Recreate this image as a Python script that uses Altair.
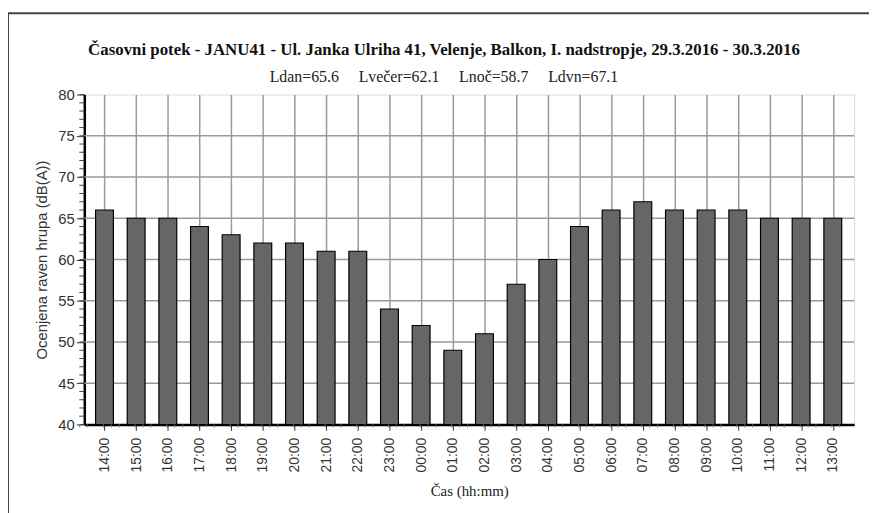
import altair as alt
import pandas as pd

hours = ["14:00", "15:00", "16:00", "17:00", "18:00", "19:00", "20:00", "21:00",
         "22:00", "23:00", "00:00", "01:00", "02:00", "03:00", "04:00", "05:00",
         "06:00", "07:00", "08:00", "09:00", "10:00", "11:00", "12:00", "13:00"]
levels = [66, 65, 65, 64, 63, 62, 62, 61, 61, 54, 52, 49, 51, 57, 60, 64,
          66, 67, 66, 66, 66, 65, 65, 65]
y_major = [40, 45, 50, 55, 60, 65, 70, 75, 80]
y_grid = [45, 50, 55, 60, 65, 70, 75]
y_minor = list(range(40, 81))
x_minor_offsets = [-0.5, -0.25, 0.25]

title_text = "Časovni potek - JANU41 - Ul. Janka Ulriha 41, Velenje, Balkon, I. nadstropje, 29.3.2016 - 30.3.2016"
gap = "\u00a0" * 5
subtitle_text = gap.join(["Ldan=65.6", "Lvečer=62.1", "Lnoč=58.7", "Ldvn=67.1"])

df = pd.DataFrame({"cas": hours, "raven": levels})
grid_df = pd.DataFrame({"v": y_grid})
minor_df = pd.DataFrame({"v": y_minor})
xminor_df = pd.DataFrame([{"cas": h, "off": o} for h in hours for o in x_minor_offsets] +
                         [{"cas": hours[-1], "off": 0.5}])
title_df = pd.DataFrame({"t": [title_text]})
sub_df = pd.DataFrame({"t": [subtitle_text]})

W, H = 777, 333

xscale = alt.Scale(domain=hours, paddingInner=0.4, paddingOuter=0.356)
yscale = alt.Scale(domain=[40, 80], nice=False, zero=False)

x_enc = alt.X("cas:N", sort=hours, scale=xscale, title="Čas (hh:mm)",
              axis=alt.Axis(labelAngle=270, labelFont="Liberation Sans", labelFontSize=14,
                            labelColor="#333", labelPadding=7, labelAlign="right",
                            labelBaseline="middle",
                            titleFont="Liberation Serif", titleFontSize=15,
                            titleFontWeight="normal", titleColor="#222", titlePadding=12,
                            domainColor="black", domainWidth=2.5, tickColor="#333",
                            tickSize=6, tickWidth=1, grid=True, gridColor="#9a9a9a",
                            gridWidth=1.5, bandPosition=0.5, tickBand="center"))

y_enc = alt.Y("raven:Q", scale=yscale, title="Ocenjena raven hrupa (dB(A))",
              axis=alt.Axis(values=y_major, labelFont="Liberation Sans", labelFontSize=15,
                            labelColor="#333", labelPadding=2,
                            titleFont="Liberation Sans", titleFontSize=15,
                            titleFontWeight="normal", titleColor="#333", titlePadding=8,
                            domainColor="black", domainWidth=2.5, tickColor="#333",
                            tickSize=8, tickWidth=1, grid=False))

hgrid = alt.Chart(grid_df).mark_rule(color="#9a9a9a", strokeWidth=1.5).encode(
    y=alt.Y("v:Q", scale=yscale),
    x=alt.value(0), x2=alt.value(W))

bars = alt.Chart(df).mark_bar(color="#666666", stroke="black", strokeWidth=1.2).encode(
    x=x_enc, y=y_enc, y2=alt.datum(40))

yminor = alt.Chart(minor_df).mark_rule(color="#444", strokeWidth=1).encode(
    y=alt.Y("v:Q", scale=yscale), x=alt.value(-5), x2=alt.value(0))

xminor = alt.Chart(xminor_df).mark_rule(color="#777", strokeWidth=1).encode(
    x=alt.X("cas:N", sort=hours, scale=xscale),
    xOffset=alt.XOffset("off:Q", scale=alt.Scale(domain=[-0.5, 0.5], range=[-16, 16])),
    y=alt.value(H), y2=alt.value(H + 3))

frame_top = alt.Chart(title_df).mark_rule(color="#444", strokeWidth=2).encode(
    x=alt.value(-77), x2=alt.value(800), y=alt.value(-82))
frame_left = alt.Chart(title_df).mark_rule(color="#444", strokeWidth=2).encode(
    x=alt.value(-77), y=alt.value(-82), y2=alt.value(430))

title_mark = alt.Chart(title_df).mark_text(
    font="Liberation Serif", fontSize=17, fontWeight="bold", color="#111",
    align="center", baseline="alphabetic").encode(
    text="t:N", x=alt.value(363), y=alt.value(-40))
sub_mark = alt.Chart(sub_df).mark_text(
    font="Liberation Serif", fontSize=16, color="#222",
    align="center", baseline="alphabetic").encode(
    text="t:N", x=alt.value(363), y=alt.value(-13))

chart = alt.layer(hgrid, bars, yminor, xminor, frame_top, frame_left,
                  title_mark, sub_mark).properties(
    width=W, height=H,
    autosize=alt.AutoSizeParams(type="none"),
    padding={"left": 77, "top": 85, "right": 15, "bottom": 87},
).configure_view(stroke=None).configure(background="white")

chart.save("out.html", embed_options={"renderer": "svg", "actions": False})
